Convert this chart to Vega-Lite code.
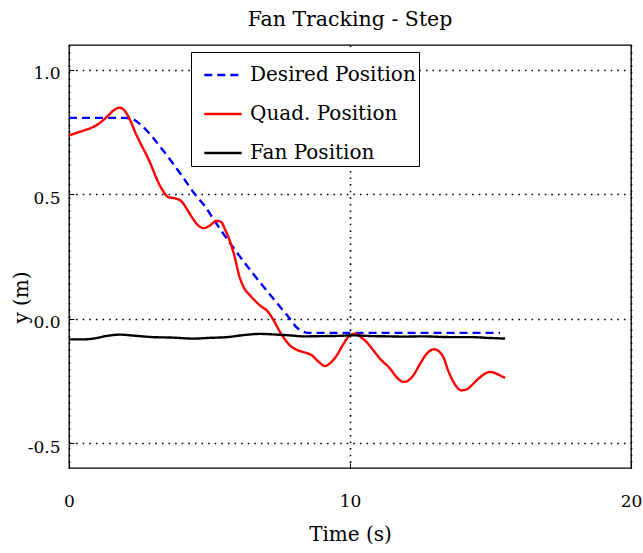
{
  "$schema": "https://vega.github.io/schema/vega-lite/v6.json",
  "width": 562,
  "height": 423,
  "autosize": {"type": "none"},
  "padding": {"left": 69, "top": 45, "right": 12, "bottom": 85},
  "background": "white",
  "title": {"text": "Fan Tracking - Step", "font": "DejaVu Serif", "fontSize": 20.5, "fontWeight": "normal", "color": "black", "offset": 15},
  "config": {
    "view": {"stroke": "black", "strokeWidth": 1.3},
    "font": "DejaVu Serif",
    "axis": {"domain": false, "grid": true, "gridColor": "black", "gridDash": [1.6, 5], "gridWidth": 1.6, "gridOpacity": 1, "tickColor": "black", "tickSize": -5, "labelFont": "DejaVu Serif", "labelFontSize": 17, "labelColor": "black", "titleFont": "DejaVu Serif", "titleFontSize": 20, "titleFontWeight": "normal", "titleColor": "black"},
    "legend": {"labelFont": "DejaVu Serif", "labelFontSize": 20, "labelColor": "black"}
  },
  "data": {"values": [
    {"t": 0, "y": 0.807, "s": "Desired Position"},
    {"t": 2.0, "y": 0.807, "s": "Desired Position"},
    {"t": 2.3, "y": 0.8, "s": "Desired Position"},
    {"t": 2.59, "y": 0.776, "s": "Desired Position"},
    {"t": 3.3, "y": 0.683, "s": "Desired Position"},
    {"t": 4.01, "y": 0.576, "s": "Desired Position"},
    {"t": 4.48, "y": 0.5, "s": "Desired Position"},
    {"t": 4.84, "y": 0.452, "s": "Desired Position"},
    {"t": 5.14, "y": 0.4, "s": "Desired Position"},
    {"t": 5.85, "y": 0.285, "s": "Desired Position"},
    {"t": 6.56, "y": 0.18, "s": "Desired Position"},
    {"t": 7.15, "y": 0.097, "s": "Desired Position"},
    {"t": 7.86, "y": 0.0, "s": "Desired Position"},
    {"t": 8.1, "y": -0.035, "s": "Desired Position"},
    {"t": 8.33, "y": -0.052, "s": "Desired Position"},
    {"t": 8.5, "y": -0.057, "s": "Desired Position"},
    {"t": 15.34, "y": -0.057, "s": "Desired Position"},

    {"t": 0, "y": 0.736, "s": "Quad. Position"},
    {"t": 0.3, "y": 0.748, "s": "Quad. Position"},
    {"t": 0.57, "y": 0.758, "s": "Quad. Position"},
    {"t": 0.85, "y": 0.77, "s": "Quad. Position"},
    {"t": 1.1, "y": 0.787, "s": "Quad. Position"},
    {"t": 1.4, "y": 0.817, "s": "Quad. Position"},
    {"t": 1.6, "y": 0.838, "s": "Quad. Position"},
    {"t": 1.79, "y": 0.848, "s": "Quad. Position"},
    {"t": 1.95, "y": 0.84, "s": "Quad. Position"},
    {"t": 2.1, "y": 0.815, "s": "Quad. Position"},
    {"t": 2.41, "y": 0.736, "s": "Quad. Position"},
    {"t": 2.82, "y": 0.643, "s": "Quad. Position"},
    {"t": 3.3, "y": 0.522, "s": "Quad. Position"},
    {"t": 3.53, "y": 0.489, "s": "Quad. Position"},
    {"t": 3.83, "y": 0.482, "s": "Quad. Position"},
    {"t": 4.0, "y": 0.472, "s": "Quad. Position"},
    {"t": 4.2, "y": 0.44, "s": "Quad. Position"},
    {"t": 4.42, "y": 0.4, "s": "Quad. Position"},
    {"t": 4.6, "y": 0.375, "s": "Quad. Position"},
    {"t": 4.78, "y": 0.364, "s": "Quad. Position"},
    {"t": 5.02, "y": 0.375, "s": "Quad. Position"},
    {"t": 5.25, "y": 0.393, "s": "Quad. Position"},
    {"t": 5.4, "y": 0.39, "s": "Quad. Position"},
    {"t": 5.55, "y": 0.36, "s": "Quad. Position"},
    {"t": 5.85, "y": 0.268, "s": "Quad. Position"},
    {"t": 6.09, "y": 0.161, "s": "Quad. Position"},
    {"t": 6.25, "y": 0.12, "s": "Quad. Position"},
    {"t": 6.44, "y": 0.094, "s": "Quad. Position"},
    {"t": 6.8, "y": 0.053, "s": "Quad. Position"},
    {"t": 7.09, "y": 0.027, "s": "Quad. Position"},
    {"t": 7.3, "y": -0.01, "s": "Quad. Position"},
    {"t": 7.51, "y": -0.053, "s": "Quad. Position"},
    {"t": 7.86, "y": -0.107, "s": "Quad. Position"},
    {"t": 8.1, "y": -0.125, "s": "Quad. Position"},
    {"t": 8.34, "y": -0.134, "s": "Quad. Position"},
    {"t": 8.64, "y": -0.147, "s": "Quad. Position"},
    {"t": 8.9, "y": -0.175, "s": "Quad. Position"},
    {"t": 9.11, "y": -0.19, "s": "Quad. Position"},
    {"t": 9.3, "y": -0.178, "s": "Quad. Position"},
    {"t": 9.53, "y": -0.147, "s": "Quad. Position"},
    {"t": 9.75, "y": -0.105, "s": "Quad. Position"},
    {"t": 9.94, "y": -0.073, "s": "Quad. Position"},
    {"t": 10.18, "y": -0.06, "s": "Quad. Position"},
    {"t": 10.4, "y": -0.075, "s": "Quad. Position"},
    {"t": 10.59, "y": -0.094, "s": "Quad. Position"},
    {"t": 10.85, "y": -0.13, "s": "Quad. Position"},
    {"t": 11.07, "y": -0.161, "s": "Quad. Position"},
    {"t": 11.42, "y": -0.2, "s": "Quad. Position"},
    {"t": 11.7, "y": -0.24, "s": "Quad. Position"},
    {"t": 11.9, "y": -0.254, "s": "Quad. Position"},
    {"t": 12.05, "y": -0.25, "s": "Quad. Position"},
    {"t": 12.25, "y": -0.228, "s": "Quad. Position"},
    {"t": 12.5, "y": -0.18, "s": "Quad. Position"},
    {"t": 12.73, "y": -0.141, "s": "Quad. Position"},
    {"t": 12.99, "y": -0.123, "s": "Quad. Position"},
    {"t": 13.15, "y": -0.13, "s": "Quad. Position"},
    {"t": 13.32, "y": -0.154, "s": "Quad. Position"},
    {"t": 13.5, "y": -0.21, "s": "Quad. Position"},
    {"t": 13.68, "y": -0.254, "s": "Quad. Position"},
    {"t": 13.97, "y": -0.288, "s": "Quad. Position"},
    {"t": 14.15, "y": -0.284, "s": "Quad. Position"},
    {"t": 14.27, "y": -0.274, "s": "Quad. Position"},
    {"t": 14.57, "y": -0.241, "s": "Quad. Position"},
    {"t": 14.98, "y": -0.214, "s": "Quad. Position"},
    {"t": 15.2, "y": -0.22, "s": "Quad. Position"},
    {"t": 15.34, "y": -0.228, "s": "Quad. Position"},
    {"t": 15.52, "y": -0.238, "s": "Quad. Position"},

    {"t": 0, "y": -0.083, "s": "Fan Position"},
    {"t": 0.5, "y": -0.083, "s": "Fan Position"},
    {"t": 0.87, "y": -0.08, "s": "Fan Position"},
    {"t": 1.3, "y": -0.07, "s": "Fan Position"},
    {"t": 1.81, "y": -0.064, "s": "Fan Position"},
    {"t": 2.3, "y": -0.068, "s": "Fan Position"},
    {"t": 3.0, "y": -0.074, "s": "Fan Position"},
    {"t": 3.7, "y": -0.076, "s": "Fan Position"},
    {"t": 4.42, "y": -0.08, "s": "Fan Position"},
    {"t": 5.0, "y": -0.077, "s": "Fan Position"},
    {"t": 5.61, "y": -0.074, "s": "Fan Position"},
    {"t": 6.2, "y": -0.066, "s": "Fan Position"},
    {"t": 6.8, "y": -0.061, "s": "Fan Position"},
    {"t": 7.4, "y": -0.064, "s": "Fan Position"},
    {"t": 7.98, "y": -0.068, "s": "Fan Position"},
    {"t": 8.34, "y": -0.071, "s": "Fan Position"},
    {"t": 9.0, "y": -0.07, "s": "Fan Position"},
    {"t": 9.6, "y": -0.069, "s": "Fan Position"},
    {"t": 10.12, "y": -0.067, "s": "Fan Position"},
    {"t": 10.8, "y": -0.07, "s": "Fan Position"},
    {"t": 11.4, "y": -0.071, "s": "Fan Position"},
    {"t": 11.9, "y": -0.072, "s": "Fan Position"},
    {"t": 12.6, "y": -0.071, "s": "Fan Position"},
    {"t": 13.2, "y": -0.073, "s": "Fan Position"},
    {"t": 13.68, "y": -0.074, "s": "Fan Position"},
    {"t": 14.3, "y": -0.074, "s": "Fan Position"},
    {"t": 14.9, "y": -0.077, "s": "Fan Position"},
    {"t": 15.52, "y": -0.08, "s": "Fan Position"}
  ]},
  "mark": {"type": "line", "interpolate": "monotone", "strokeWidth": 2.4},
  "encoding": {
    "x": {"field": "t", "type": "quantitative", "scale": {"domain": [0, 20], "nice": false, "zero": false},
      "axis": {"values": [0, 10, 20], "title": "Time (s)", "labelPadding": 30, "titleY": 66, "titleBaseline": "middle", "labelFlush": false}},
    "y": {"field": "y", "type": "quantitative", "scale": {"domain": [-0.6, 1.1], "nice": false, "zero": false},
      "axis": {"values": [-0.5, 0, 0.5, 1.0], "format": ".1f", "labelExpr": "replace(datum.label, '\u2212', '-')", "title": "y (m)", "labelPadding": 14, "labelOffset": 4, "titleX": -48, "titleY": 252, "titleBaseline": "middle", "titleAngle": 270}},
    "color": {"field": "s", "type": "nominal", "sort": ["Desired Position", "Quad. Position", "Fan Position"],
      "scale": {"domain": ["Desired Position", "Quad. Position", "Fan Position"], "range": ["#0000ff", "#ff0000", "#000000"]},
      "legend": {"title": null, "orient": "none", "legendX": 122, "legendY": 7, "fillColor": "white", "strokeColor": "black", "padding": 3, "symbolType": "stroke", "symbolSize": 1400, "symbolStrokeWidth": 2.4, "symbolOffset": 9, "labelOffset": 7, "rowPadding": 9, "labelLimit": 300}},
    "strokeDash": {"field": "s", "type": "nominal", "sort": ["Desired Position", "Quad. Position", "Fan Position"],
      "scale": {"domain": ["Desired Position", "Quad. Position", "Fan Position"], "range": [[8, 5], [1, 0], [1, 0]]},
      "legend": {"title": null, "orient": "none", "legendX": 122, "legendY": 7, "fillColor": "white", "strokeColor": "black", "padding": 3, "symbolType": "stroke", "symbolSize": 1400, "symbolStrokeWidth": 2.4, "symbolOffset": 9, "labelOffset": 7, "rowPadding": 9, "labelLimit": 300}}
  }
}
